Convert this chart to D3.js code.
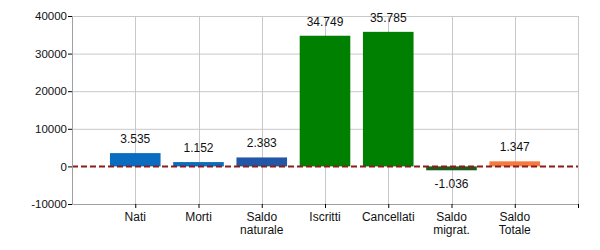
<!DOCTYPE html>
<html>
<head>
<meta charset="utf-8">
<script src="https://cdn.jsdelivr.net/npm/d3@7"></script>
<style>
body { margin: 0; background: #fff; }
text { font-family: "Liberation Sans", Arial, sans-serif; }
</style>
</head>
<body>
<div id="plot"></div>
<script>
// dati
var categories = [['Nati'], ['Morti'], ['Saldo', 'naturale'], ['Iscritti'], ['Cancellati'], ['Saldo', 'migrat.'], ['Saldo', 'Totale']];
var values = [3535, 1152, 2383, 34749, 35785, -1036, 1347];
var labels = ['3.535', '1.152', '2.383', '34.749', '35.785', '-1.036', '1.347'];
var colors = ['#0a6cc0', '#0a6cc0', '#2257a8', '#008000', '#008000', '#1e5a1e', '#f47a42'];
var yTicks = [-10000, 0, 10000, 20000, 30000, 40000];

var margin = {t:16, r:22, b:46, l:72};
var W = 600, H = 250;
var width = W - margin.l - margin.r,
    height = H - margin.t - margin.b;

var svg = d3.select('#plot')
	.append('svg')
	.attr('width', W)
	.attr('height', H);

var plot = svg.append('g')
	.attr('transform', 'translate(' + margin.l + ',' + margin.t + ')');

var keys = categories.map(function (d, i) { return i; });

var x = d3.scalePoint()
	.domain(keys)
	.range([0, width])
	.padding(1);

var y = d3.scaleLinear()
	.domain([-10000, 40000])
	.range([height, 0]);

var barW = x.step() * 0.8;

// griglia
plot.selectAll('.hgrid')
	.data(yTicks.filter(function (d) { return d > 0; }))
	.enter().append('line')
	.attr('x1', 0).attr('x2', width)
	.attr('y1', function (d) { return y(d) + 0.5; })
	.attr('y2', function (d) { return y(d) + 0.5; })
	.style('stroke', '#c8c8c8');

plot.selectAll('.vgrid')
	.data(keys)
	.enter().append('line')
	.attr('x1', function (d) { return Math.round(x(d)) + 0.5; })
	.attr('x2', function (d) { return Math.round(x(d)) + 0.5; })
	.attr('y1', 0).attr('y2', height)
	.style('stroke', '#c8c8c8');

plot.append('line')
	.attr('x1', width + 0.5).attr('x2', width + 0.5)
	.attr('y1', 0).attr('y2', height)
	.style('stroke', '#c8c8c8');

// barre
plot.selectAll('.bar')
	.data(values)
	.enter().append('rect')
	.attr('class', 'bar')
	.attr('x', function (d, i) { return x(i) - barW / 2; })
	.attr('width', barW)
	.attr('y', function (d) { return y(Math.max(0, d)); })
	.attr('height', function (d) { return Math.abs(y(d) - y(0)); })
	.style('fill', function (d, i) { return colors[i]; });

// linea dello zero
plot.append('line')
	.attr('x1', 0).attr('x2', width)
	.attr('y1', y(0)).attr('y2', y(0))
	.style('stroke', '#8b1c1c')
	.style('stroke-width', 2)
	.style('stroke-dasharray', '6,3');

// etichette valori
plot.selectAll('.val')
	.data(values)
	.enter().append('text')
	.attr('x', function (d, i) { return x(i); })
	.attr('y', function (d) { return d >= 0 ? y(d) - 10 : y(d) + 18; })
	.attr('text-anchor', 'middle')
	.style('font-size', '12px')
	.style('fill', '#111')
	.text(function (d, i) { return labels[i]; });

// asse y
var yAxis = plot.append('g')
	.call(d3.axisLeft(y).tickValues(yTicks).tickSize(4).tickPadding(1)
		.tickFormat(function (d) { return String(d); }));
yAxis.select('.domain').attr('stroke', '#a0a0a0');
yAxis.selectAll('text').style('font-size', '11.5px').style('fill', '#111');

// asse x
var xAxis = plot.append('g')
	.attr('transform', 'translate(0,' + height + ')')
	.call(d3.axisBottom(x).tickValues(keys).tickSize(4).tickSizeOuter(0).tickFormat(''));
xAxis.select('.domain').attr('stroke', '#a0a0a0');

xAxis.append('line')
	.attr('x1', width + 0.5).attr('x2', width + 0.5)
	.attr('y1', 0).attr('y2', 4)
	.attr('stroke', '#000');

plot.selectAll('.cat')
	.data(categories)
	.enter().append('text')
	.attr('x', function (d, i) { return x(i); })
	.attr('y', height + 17)
	.attr('text-anchor', 'middle')
	.style('font-size', '12px')
	.style('fill', '#111')
	.each(function (d) {
		var t = d3.select(this);
		d.forEach(function (line, j) {
			t.append('tspan')
				.attr('x', t.attr('x'))
				.attr('dy', j === 0 ? 0 : 13)
				.text(line);
		});
	});
</script>
</body>
</html>
